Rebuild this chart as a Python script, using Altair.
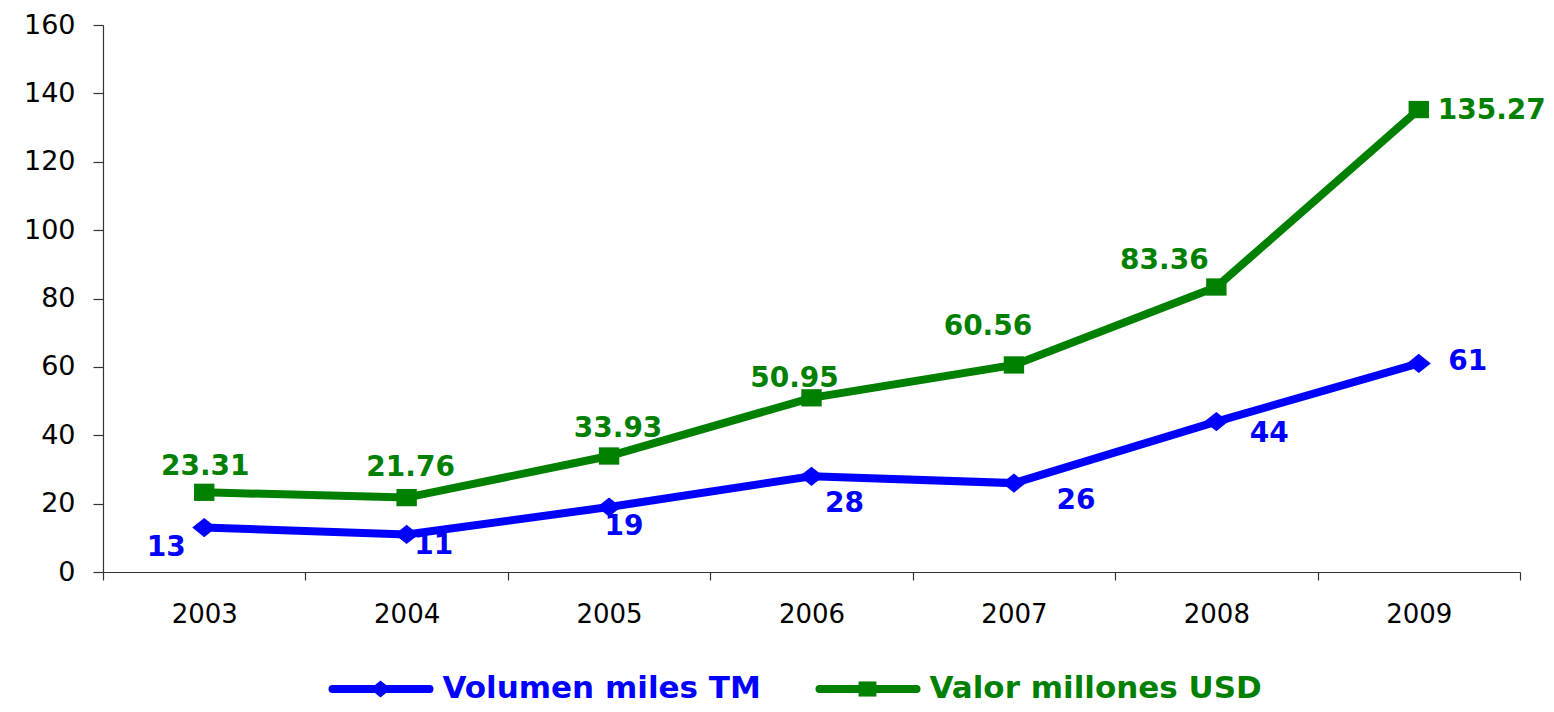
import altair as alt
import pandas as pd

years = ["2003", "2004", "2005", "2006", "2007", "2008", "2009"]
volumen = [13, 11, 19, 28, 26, 44, 61]
valor = [23.31, 21.76, 33.93, 50.95, 60.56, 83.36, 135.27]
series_names = ["Volumen miles TM", "Valor millones USD"]
series_colors = ["#0000FF", "#008000"]
y_ticks = [0, 20, 40, 60, 80, 100, 120, 140, 160]

label_fmt = {"Volumen miles TM": "{:.0f}", "Valor millones USD": "{:.2f}"}

rows = []
for name, vals in zip(series_names, [volumen, valor]):
    for yr, v in zip(years, vals):
        rows.append({"year": yr, "series": name, "value": v,
                     "label": label_fmt[name].format(v)})
df = pd.DataFrame(rows)
legend_df = pd.DataFrame({"series": series_names})

# label offsets (style only), per series, per year
offsets = {
    "Volumen miles TM": [(-38, 20), (27, 12), (15, 20), (33, 28), (62, 18), (53, 12), (49, -1)],
    "Valor millones USD": [(1, -25), (4, -30), (9, -27), (-17, -19), (-26, -38), (-52, -26), (73, 1)],
}

# marker shapes (unit box -1..1)
diamond_path = "M0,-0.8L1,0L0,0.8L-1,0Z"
square_path = "M-0.85,-0.72L0.85,-0.72L0.85,0.72L-0.85,0.72Z"

color_scale = alt.Scale(domain=series_names, range=series_colors)
shape_scale = alt.Scale(domain=series_names, range=[diamond_path, square_path])

x_enc = alt.X(
    "year:N", sort=years,
    scale=alt.Scale(type="band", paddingInner=0, paddingOuter=0),
    bandPosition=0.5,
    axis=alt.Axis(title=None, tickBand="extent", labelAngle=0, tickSize=8,
                  labelPadding=21, labelFont="DejaVu Sans", labelFontSize=26,
                  labelColor="black", domainColor="#333", tickColor="#333",
                  domainWidth=1.2, tickWidth=1.2),
)
y_enc = alt.Y(
    "value:Q",
    scale=alt.Scale(domain=[0, 160], nice=False),
    axis=alt.Axis(values=y_ticks, title=None, grid=False, tickSize=10,
                  labelPadding=18, labelFont="DejaVu Sans", labelFontSize=27,
                  labelColor="black", domainColor="#333", tickColor="#333",
                  domainWidth=1.2, tickWidth=1.2),
)

base = alt.Chart(df)

lines = base.mark_line(strokeWidth=8).encode(
    x=x_enc, y=y_enc,
    color=alt.Color("series:N", sort=series_names, scale=color_scale, legend=None),
)

points = base.mark_point(filled=True, size=576, opacity=1, strokeWidth=0).encode(
    x=x_enc, y=y_enc,
    fill=alt.Fill("series:N", scale=color_scale, legend=None),
    shape=alt.Shape("series:N", scale=shape_scale, legend=None),
)

main_layers = [lines, points]
for name, col in zip(series_names, series_colors):
    for yr, (dx, dy) in zip(years, offsets[name]):
        t = base.transform_filter(
            (alt.datum.series == name) & (alt.datum.year == yr)
        ).mark_text(
            dx=dx, dy=dy, align="center", baseline="middle",
            font="DejaVu Sans", fontSize=28, fontWeight="bold", color=col,
        ).encode(x=x_enc, y=y_enc, text="label:N")
        main_layers.append(t)
main = alt.layer(*main_layers)

# ---- legend (own band scale for the two entries) ----
leg_y = alt.value(664)
leg_x = alt.X("series:N", sort=series_names,
              scale=alt.Scale(type="band", domain=series_names,
                              paddingInner=0, paddingOuter=0.4548),
              axis=None, bandPosition=0)
leg_base = alt.Chart(legend_df)
leg_line = leg_base.mark_rule(strokeWidth=8, strokeCap="round",
                              xOffset=8, x2Offset=105).encode(
    x=leg_x, x2=alt.X2("series:N", bandPosition=0), y=leg_y,
    color=alt.Color("series:N", scale=color_scale, legend=None),
)
leg_mark = leg_base.mark_point(filled=True, size=441, opacity=1, strokeWidth=0,
                               xOffset=56).encode(
    x=leg_x, y=leg_y,
    fill=alt.Fill("series:N", scale=color_scale, legend=None),
    shape=alt.Shape("series:N", scale=shape_scale, legend=None),
)
leg_text = leg_base.mark_text(align="left", baseline="middle", dx=118,
                              font="DejaVu Sans", fontSize=31, fontWeight="bold").encode(
    x=leg_x, y=leg_y, text="series:N",
    color=alt.Color("series:N", scale=color_scale, legend=None),
)
legend_layer = alt.layer(leg_line, leg_mark, leg_text)

chart = alt.layer(main, legend_layer).resolve_scale(x="independent").properties(
    width=1417, height=547,
    padding={"left": 15, "top": 3, "right": 0, "bottom": 0},
).configure(background="white").configure_view(stroke=None)

chart.save("out.html", embed_options={"renderer": "svg", "actions": False})
